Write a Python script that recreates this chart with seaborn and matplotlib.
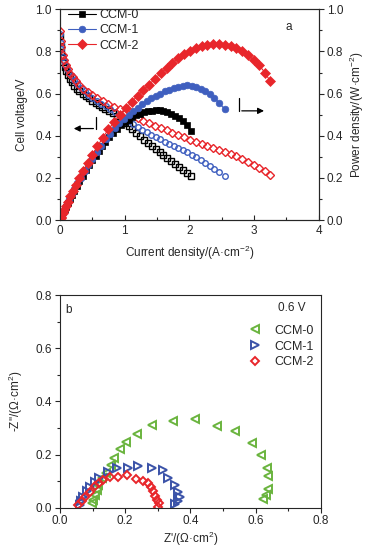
import numpy as np
import pandas as pd
import matplotlib
matplotlib.use("Agg")
import matplotlib.pyplot as plt
import seaborn as sns

# ---------------- data: panel a ----------------
ccm0_i = [0, 0.01, 0.02, 0.03, 0.05, 0.07, 0.09, 0.12, 0.15, 0.18, 0.22, 0.26, 0.30, 0.35, 0.40,
          0.45, 0.50, 0.55, 0.60, 0.65, 0.70, 0.76, 0.82, 0.88, 0.94, 1.00, 1.06, 1.12, 1.18, 1.24,
          1.30, 1.36, 1.42, 1.48, 1.54, 1.60, 1.66, 1.72, 1.78, 1.84, 1.90, 1.96, 2.02]
ccm0_v = [0.875, 0.826, 0.797, 0.775, 0.748, 0.725, 0.708, 0.688, 0.670, 0.655, 0.638, 0.624, 0.612,
          0.600, 0.589, 0.578, 0.567, 0.556, 0.546, 0.537, 0.528, 0.517, 0.506, 0.494, 0.478, 0.462,
          0.446, 0.430, 0.414, 0.398, 0.382, 0.366, 0.352, 0.338, 0.324, 0.310, 0.295, 0.280, 0.266,
          0.252, 0.238, 0.224, 0.209]
ccm0_p = [0, 0.008, 0.016, 0.023, 0.037, 0.051, 0.064, 0.083, 0.100, 0.118, 0.140, 0.162, 0.184,
          0.210, 0.236, 0.260, 0.284, 0.306, 0.328, 0.349, 0.369, 0.392, 0.413, 0.432, 0.449, 0.463,
          0.476, 0.487, 0.497, 0.505, 0.511, 0.516, 0.519, 0.520, 0.520, 0.518, 0.513, 0.505, 0.495,
          0.483, 0.468, 0.449, 0.424]

ccm1_i = [0, 0.01, 0.02, 0.04, 0.06, 0.08, 0.11, 0.14, 0.18, 0.22, 0.27, 0.32, 0.38, 0.44, 0.50,
          0.57, 0.64, 0.71, 0.78, 0.85, 0.92, 0.99, 1.06, 1.13, 1.20, 1.27, 1.34, 1.41, 1.48, 1.55,
          1.62, 1.69, 1.76, 1.83, 1.90, 1.97, 2.04, 2.11, 2.18, 2.25, 2.32, 2.39, 2.46, 2.55]
ccm1_v = [0.885, 0.840, 0.810, 0.775, 0.755, 0.738, 0.718, 0.700, 0.682, 0.665, 0.645, 0.628, 0.610,
          0.595, 0.580, 0.566, 0.552, 0.539, 0.526, 0.512, 0.498, 0.484, 0.470, 0.455, 0.441, 0.429,
          0.417, 0.405, 0.394, 0.383, 0.372, 0.362, 0.352, 0.342, 0.333, 0.323, 0.310, 0.297, 0.284,
          0.270, 0.255, 0.240, 0.226, 0.210]
ccm1_p = [0, 0.008, 0.016, 0.031, 0.045, 0.059, 0.079, 0.098, 0.123, 0.146, 0.174, 0.201, 0.232,
          0.262, 0.290, 0.323, 0.353, 0.383, 0.410, 0.436, 0.459, 0.481, 0.500, 0.517, 0.533, 0.549,
          0.563, 0.577, 0.589, 0.600, 0.610, 0.619, 0.627, 0.633, 0.638, 0.640, 0.638, 0.632, 0.623,
          0.611, 0.596, 0.578, 0.557, 0.525]

ccm2_i = [0, 0.01, 0.02, 0.04, 0.06, 0.09, 0.12, 0.16, 0.20, 0.25, 0.30, 0.36, 0.43, 0.50, 0.58,
          0.66, 0.75, 0.84, 0.93, 1.02, 1.11, 1.20, 1.29, 1.38, 1.47, 1.56, 1.65, 1.74, 1.83, 1.92,
          2.01, 2.10, 2.19, 2.28, 2.37, 2.46, 2.55, 2.64, 2.73, 2.82, 2.91, 3.00, 3.08, 3.17, 3.25]
ccm2_v = [0.895, 0.850, 0.820, 0.785, 0.760, 0.735, 0.715, 0.695, 0.677, 0.658, 0.641, 0.624, 0.607,
          0.592, 0.578, 0.565, 0.552, 0.538, 0.525, 0.511, 0.497, 0.484, 0.472, 0.460, 0.448, 0.436,
          0.425, 0.414, 0.403, 0.392, 0.382, 0.372, 0.362, 0.352, 0.343, 0.334, 0.325, 0.314, 0.302,
          0.289, 0.275, 0.261, 0.247, 0.231, 0.212]
ccm2_p = [0, 0.008, 0.016, 0.031, 0.046, 0.066, 0.086, 0.112, 0.137, 0.168, 0.198, 0.233, 0.272,
          0.310, 0.350, 0.390, 0.430, 0.467, 0.500, 0.530, 0.560, 0.590, 0.617, 0.643, 0.670, 0.697,
          0.720, 0.745, 0.768, 0.788, 0.804, 0.816, 0.826, 0.831, 0.834, 0.834, 0.831, 0.825, 0.815,
          0.800, 0.781, 0.760, 0.735, 0.700, 0.660]

# ---------------- data: panel b (Nyquist) ----------------
eis0_re = [0.097, 0.102, 0.107, 0.113, 0.118, 0.128, 0.141, 0.155, 0.167, 0.184, 0.201, 0.236,
           0.283, 0.348, 0.414, 0.483, 0.537, 0.588, 0.617, 0.634, 0.639, 0.637, 0.632, 0.622]
eis0_im = [0.016, 0.029, 0.048, 0.067, 0.085, 0.110, 0.129, 0.160, 0.188, 0.219, 0.248, 0.277,
           0.310, 0.326, 0.333, 0.308, 0.290, 0.242, 0.198, 0.148, 0.119, 0.070, 0.048, 0.033]

eis1_re = [0.061, 0.064, 0.072, 0.082, 0.092, 0.107, 0.121, 0.146, 0.174, 0.210, 0.238, 0.283,
           0.315, 0.332, 0.353, 0.361, 0.368, 0.363, 0.353]
eis1_im = [0.010, 0.025, 0.041, 0.063, 0.079, 0.098, 0.113, 0.133, 0.148, 0.150, 0.157, 0.150,
           0.142, 0.110, 0.085, 0.060, 0.041, 0.025, 0.013]

eis2_re = [0.056, 0.066, 0.077, 0.092, 0.107, 0.120, 0.133, 0.153, 0.179, 0.205, 0.232, 0.256,
           0.271, 0.279, 0.286, 0.291, 0.297, 0.305, 0.302]
eis2_im = [0.010, 0.025, 0.042, 0.060, 0.080, 0.093, 0.104, 0.117, 0.117, 0.123, 0.108, 0.100,
           0.094, 0.079, 0.063, 0.045, 0.029, 0.016, 0.004]

labels = ["CCM-0", "CCM-1", "CCM-2"]
top_colors = ["#000000", "#3f5fbf", "#e8262b"]
top_markers = ["s", "o", "D"]
eis_colors = ["#6ab43e", "#3a52a8", "#e8262b"]
eis_markers = ["<", ">", "D"]

sns.set_theme(style="ticks")
plt.rcParams["font.family"] = ["Liberation Sans", "DejaVu Sans"]
plt.rcParams["mathtext.fontset"] = "custom"
plt.rcParams["mathtext.rm"] = "Liberation Sans"
plt.rcParams["mathtext.it"] = "Liberation Sans:italic"
plt.rcParams["axes.linewidth"] = 0.8

FS = 8.5

fig = plt.figure(figsize=(3.67, 5.48), dpi=100)
ax1 = fig.add_axes([60 / 367, 1 - 220 / 548, 258.5 / 367, 210.7 / 548])
ax2 = ax1.twinx()
ax3 = fig.add_axes([60 / 367, 1 - 507.7 / 548, 260.7 / 367, 212.7 / 548])

# --- panel a ---
cur = [ccm0_i, ccm1_i, ccm2_i]
vol = [ccm0_v, ccm1_v, ccm2_v]
pwr = [ccm0_p, ccm1_p, ccm2_p]
for k in range(3):
    df = pd.DataFrame({"I": cur[k], "V": vol[k], "P": pwr[k]})
    sns.lineplot(data=df, x="I", y="V", ax=ax1, color=top_colors[k], linestyle="none",
                 marker=top_markers[k], markersize=4.0 if k != 2 else 3.7,
                 markerfacecolor="none", markeredgecolor=top_colors[k], markeredgewidth=1.0,
                 sort=False, estimator=None)
    sns.lineplot(data=df, x="I", y="P", ax=ax2, color=top_colors[k], linewidth=0.8,
                 marker=top_markers[k], markersize=4.8 if k != 2 else 4.6,
                 markerfacecolor=top_colors[k], markeredgecolor=top_colors[k], markeredgewidth=0.5,
                 sort=False, estimator=None, label=labels[k])

for a in (ax1, ax2):
    a.set_xlim(0, 4)
    a.set_ylim(0, 1.0)
ax1.set_xticks([0, 1, 2, 3, 4])
ax1.set_xticks(np.arange(0, 4.01, 0.5), minor=True)
for a in (ax1, ax2):
    a.set_yticks(np.arange(0, 1.01, 0.2))
    a.set_yticks(np.arange(0, 1.01, 0.1), minor=True)
    a.yaxis.set_major_formatter(matplotlib.ticker.FormatStrFormatter("%.1f"))
    a.tick_params(axis="y", which="both", direction="out", labelsize=FS, pad=2.5)
    a.tick_params(axis="y", which="major", length=3.5, width=0.8)
    a.tick_params(axis="y", which="minor", length=2, width=0.8)
ax1.tick_params(axis="x", which="both", direction="in", labelsize=FS, pad=3.5)
ax1.tick_params(axis="x", which="major", length=3.5, width=0.8)
ax1.tick_params(axis="x", which="minor", length=2, width=0.8)
ax1.set_xlabel("Current density/(A·cm$^{-2}$)", fontsize=FS, labelpad=5)
ax1.set_ylabel("Cell voltage/V", fontsize=FS, labelpad=5)
ax2.set_ylabel("Power density/(W·cm$^{-2}$)", fontsize=FS, labelpad=3.5)
ax1.text(3.49, 0.916, "a", fontsize=FS, ha="left", va="center")

h, l = ax2.get_legend_handles_labels()
ax2.legend(h, l, loc="upper left", bbox_to_anchor=(0.031, 1.0), frameon=False, fontsize=FS + 0.5,
           handlelength=2.2, handletextpad=0.3, labelspacing=0.25, borderpad=0.0, borderaxespad=0.0)

# arrows
ax1.plot([0.553, 0.553], [0.49, 0.434], color="black", lw=0.9)
ax1.annotate("", xy=(0.17, 0.434), xytext=(0.56, 0.434),
             arrowprops=dict(arrowstyle="-|>", color="black", lw=0.9, mutation_scale=9))
ax1.plot([2.775, 2.775], [0.577, 0.518], color="black", lw=0.9)
ax1.annotate("", xy=(3.2, 0.518), xytext=(2.77, 0.518),
             arrowprops=dict(arrowstyle="-|>", color="black", lw=0.9, mutation_scale=9))

# --- panel b ---
re_ = [eis0_re, eis1_re, eis2_re]
im_ = [eis0_im, eis1_im, eis2_im]
for k in range(3):
    df = pd.DataFrame({"re": re_[k], "im": im_[k]})
    sns.lineplot(data=df, x="re", y="im", ax=ax3, linestyle="none", color=eis_colors[k],
                 marker=eis_markers[k], markersize=5.2 if k != 2 else 4.2,
                 markerfacecolor="none", markeredgecolor=eis_colors[k], markeredgewidth=1.4,
                 sort=False, estimator=None, label=labels[k])

ax3.set_xlim(0, 0.8)
ax3.set_ylim(0, 0.8)
ax3.set_xticks(np.arange(0, 0.81, 0.2))
ax3.set_xticks(np.arange(0, 0.81, 0.1), minor=True)
ax3.set_yticks(np.arange(0, 0.81, 0.2))
ax3.set_yticks(np.arange(0, 0.81, 0.1), minor=True)
ax3.xaxis.set_major_formatter(matplotlib.ticker.FormatStrFormatter("%.1f"))
ax3.yaxis.set_major_formatter(matplotlib.ticker.FormatStrFormatter("%.1f"))
ax3.tick_params(which="both", direction="out", labelsize=FS, pad=2)
ax3.tick_params(which="major", length=3.5, width=0.8)
ax3.tick_params(which="minor", length=2, width=0.8)
ax3.set_xlabel("Z'/(Ω·cm$^{2}$)", fontsize=FS, labelpad=1.5)
ax3.set_ylabel("-Z''/(Ω·cm$^{2}$)", fontsize=FS, labelpad=8)
ax3.text(0.015, 0.743, "b", fontsize=FS, ha="left", va="center")
ax3.text(0.669, 0.751, "0.6 V", fontsize=FS, ha="left", va="center")
h, l = ax3.get_legend_handles_labels()
ax3.legend(h, l, loc="upper left", bbox_to_anchor=(0.72, 0.86), frameon=False, fontsize=FS + 0.5,
           handlelength=1.2, handletextpad=0.9, labelspacing=0.3, borderpad=0.0, borderaxespad=0.0,
           numpoints=1)

fig.savefig("out.png", dpi=100)
